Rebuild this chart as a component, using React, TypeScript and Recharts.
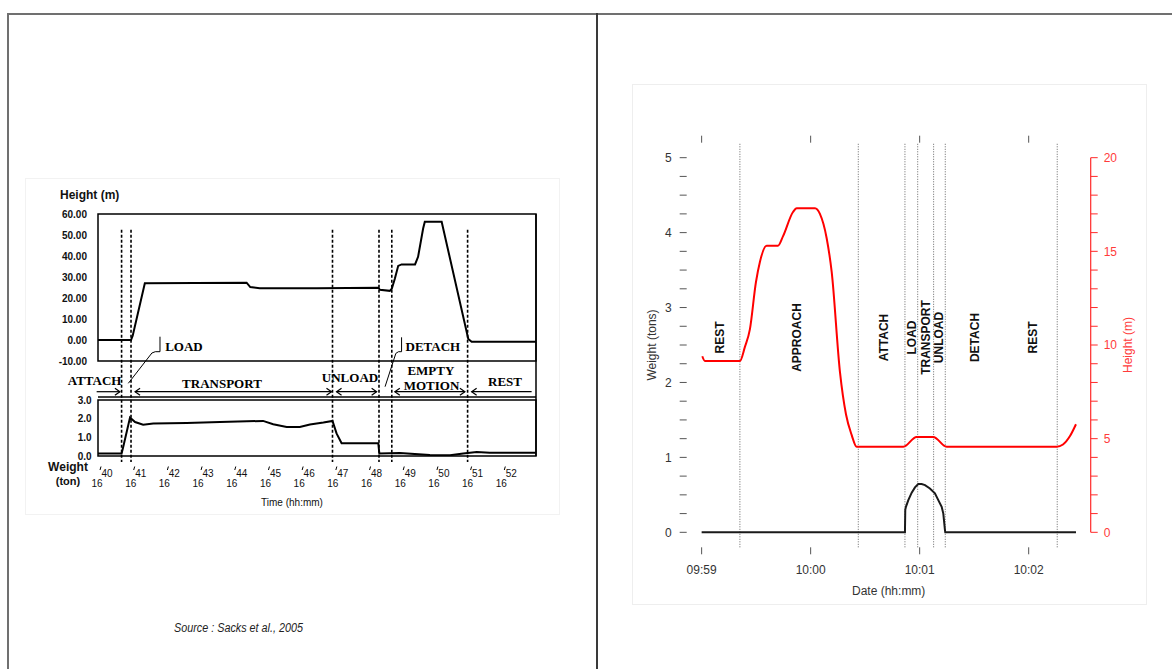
import React from 'react';
import {
  ComposedChart,
  Line,
  XAxis,
  YAxis,
  ReferenceLine,
  ReferenceArea,
  ReferenceDot,
} from 'recharts';

const SANS = '"Liberation Sans", Arial, sans-serif';
const SERIF = '"Liberation Serif", "Times New Roman", serif';

// ---------------- Left chart (Sacks et al., 2005) ----------------
const leftTimeTicks = [40, 41, 42, 43, 44, 45, 46, 47, 48, 49, 50, 51, 52];
const leftHourLabel = '16';
const leftHeightTicks = [-10, 0, 10, 20, 30, 40, 50, 60];
const leftWeightTicks = [0, 1, 2, 3];

const leftHeightT = [40, 40.98, 41.03, 41.39, 44.41, 44.52, 44.8, 46.5, 48.32, 48.37, 48.66, 48.72, 48.81, 48.91, 49.01, 49.41, 49.5, 49.65, 49.7, 50.2, 50.99, 51.09, 53];
const leftHeightV = [0, 0, 2, 27, 27.3, 25.2, 24.7, 24.6, 24.9, 23.9, 23.4, 24.4, 29.2, 35.3, 36, 36, 39.6, 53.1, 56.3, 56.3, 0.5, -0.8, -0.8];

const leftWeightT = [40, 40.7, 40.75, 40.95, 41.1, 41.34, 41.64, 42.63, 43.62, 44.9, 45.2, 45.6, 45.99, 46.29, 46.69, 46.96, 47.08, 47.23, 48.32, 48.35, 48.96, 49.85, 50.45, 50.84, 51.24, 51.63, 53];
const leftWeightV = [0.14, 0.14, 0.5, 2.06, 1.82, 1.68, 1.74, 1.77, 1.82, 1.88, 1.7, 1.56, 1.56, 1.69, 1.79, 1.88, 1.21, 0.68, 0.68, 0.14, 0.16, 0.05, 0.04, 0.14, 0.22, 0.18, 0.18];

const leftPhaseLines = [40.7, 40.98, 46.96, 48.34, 48.72, 50.97];

const leftBandNames = ['ATTACH', 'TRANSPORT', 'UNLOAD', 'EMPTY', 'MOTION', 'REST', 'LOAD', 'DETACH'];
const leftBandT = [39.9, 43.68, 47.48, 49.88, 49.9, 52.08, 42.55, 49.94];
const leftBandY = [31.2, 30.04, 32.64, 35.54, 29.34, 30.7, 45.45, 45.45];

const leftArrowFrom = [39.96, 41.1, 47.08, 48.81, 51.09];
const leftArrowTo = [40.65, 46.93, 48.27, 50.89, 52.87];
const leftArrowHeads = ['end', 'both', 'both', 'both', 'start'];
const leftArrowY = 26.57;

const loadLeaderT = [40.9, 41.6, 41.7, 41.84, 41.84];
const loadLeaderY = [30.04, 42.56, 43.1, 43.1, 49.3];
const detachLeaderT = [48.52, 48.84, 48.92, 49.01, 49.01];
const detachLeaderY = [28.64, 42.4, 43.1, 43.1, 49.05];

// ---------------- Right chart ----------------
const rightTimeTicks = [0, 1, 2, 3];
const rightTimeLabels = ['09:59', '10:00', '10:01', '10:02'];
const rightWeightTicks = [0, 0.25, 0.5, 0.75, 1, 1.25, 1.5, 1.75, 2, 2.25, 2.5, 2.75, 3, 3.25, 3.5, 3.75, 4, 4.25, 4.5, 4.75, 5];
const rightHeightTicks = [0, 1, 2, 3, 4, 5, 6, 7, 8, 9, 10, 11, 12, 13, 14, 15, 16, 17, 18, 19, 20];

const rightHeightM = [0.006, 0.03, 0.351, 0.397, 0.443, 0.498, 0.535, 0.596, 0.7, 0.746, 0.838, 0.872, 1.04, 1.085, 1.147, 1.193, 1.269, 1.324, 1.376, 1.422, 1.85, 1.972, 2.125, 2.248, 3.257, 3.315, 3.379, 3.434];
const rightHeightV = [9.4, 9.15, 9.15, 9.9, 10.85, 13.35, 14.45, 15.3, 15.3, 15.8, 17.1, 17.3, 17.3, 17.0, 15.7, 13.9, 8.55, 6.3, 5.2, 4.57, 4.57, 5.09, 5.09, 4.57, 4.57, 4.69, 5.14, 5.77];

const rightWeightM = [0, 1.865, 1.868, 1.874, 1.896, 1.927, 1.957, 1.987, 2.018, 2.049, 2.094, 2.14, 2.171, 2.202, 2.217, 2.232, 2.235, 3.434];
const rightWeightV = [0, 0, 0.3, 0.34, 0.43, 0.53, 0.6, 0.644, 0.644, 0.63, 0.585, 0.52, 0.43, 0.34, 0.25, 0.03, 0, 0];

const rightPhaseLines = [0.351, 1.437, 1.865, 1.982, 2.128, 2.235, 3.262];
const rightPhaseNames = ['REST', 'APPROACH', 'ATTACH', 'LOAD', 'TRANSPORT', 'UNLOAD', 'DETACH', 'REST'];
const rightPhaseCenters = [0.166, 0.871, 1.666, 1.926, 2.058, 2.176, 2.501, 3.036];
const rightPhaseY = 2.6;

const zip = (xs: number[], ys: number[], kx: string, ky: string) =>
  xs.map((x, i) => ({ [kx]: x, [ky]: ys[i] }));

const leftHeightData = zip(leftHeightT, leftHeightV, 't', 'h');
const leftWeightData = zip(leftWeightT, leftWeightV, 't', 'w');
const rightHeightData = zip(rightHeightM, rightHeightV, 'm', 'h');
const rightWeightData = zip(rightWeightM, rightWeightV, 'm', 'w');

// ---------------- tick renderers ----------------
const LeftTimeTick = (p: any) => {
  const { x, y, payload } = p;
  return (
    <g>
      <line x1={x + 3} y1={y + 10.5} x2={x + 2} y2={y + 14} stroke="#000" strokeWidth={1} />
      <text x={x + 9} y={y + 20.7} textAnchor="middle" fontSize={10} fontFamily={SANS} fill="#111">
        {payload.value}
      </text>
      <text x={x - 1} y={y + 30.7} textAnchor="middle" fontSize={10} fontFamily={SANS} fill="#111">
        {leftHourLabel}
      </text>
    </g>
  );
};

const RightWeightTick = (p: any) => {
  const v = p.payload.value;
  if (v % 1 !== 0) return <g />;
  return (
    <text x={p.x} y={p.y} dy="0.35em" textAnchor="end" fontSize={12} fontFamily={SANS} fill="#333">
      {v}
    </text>
  );
};

const RightHeightTick = (p: any) => {
  const v = p.payload.value;
  if (v % 5 !== 0) return <g />;
  return (
    <text x={p.x} y={p.y} dy="0.35em" textAnchor="start" fontSize={12} fontFamily={SANS} fill="#ff3b3b">
      {v}
    </text>
  );
};

const arrowShape = (head: string) => (p: any) => {
  const { x1, y1, x2, y2 } = p;
  const s = 5;
  const h = 3.5;
  const start = head === 'start' || head === 'both';
  const end = head === 'end' || head === 'both';
  return (
    <g>
      <line x1={x1} y1={y1} x2={x2} y2={y2} stroke="#000" strokeWidth={1.2} />
      {start && (
        <path d={`M${x1 + s},${y1 - h} L${x1},${y1} L${x1 + s},${y1 + h}`} fill="none" stroke="#000" strokeWidth={1.2} />
      )}
      {end && (
        <path d={`M${x2 - s},${y2 - h} L${x2},${y2} L${x2 - s},${y2 + h}`} fill="none" stroke="#000" strokeWidth={1.2} />
      )}
    </g>
  );
};

const leaderLines = (ts: number[], ys: number[], key: string) =>
  ts.slice(0, -1).map((t, i) => (
    <ReferenceLine
      key={`${key}-${i}`}
      xAxisId="x"
      yAxisId="a"
      segment={[
        { x: t, y: ys[i] },
        { x: ts[i + 1], y: ys[i + 1] },
      ]}
      stroke="#000"
      strokeWidth={1}
      ifOverflow="visible"
    />
  ));

const LeftChart = () => (
  <ComposedChart width={540} height={340} margin={{ top: 34, right: 24, bottom: 24, left: 78 }}>
    <XAxis
      xAxisId="x"
      dataKey="t"
      type="number"
      domain={[40, 53]}
      ticks={leftTimeTicks}
      interval={0}
      allowDataOverflow
      axisLine={false}
      tickLine={false}
      tickSize={0}
      tickMargin={0}
      height={40}
      tick={LeftTimeTick}
    />
    <YAxis yAxisId="h" hide type="number" domain={[-10, 60]} allowDataOverflow padding={{ top: 0, bottom: 95 }} />
    <YAxis yAxisId="w" hide type="number" domain={[0, 3]} allowDataOverflow padding={{ top: 186, bottom: 0 }} />
    <YAxis yAxisId="a" hide type="number" domain={[0, 100]} allowDataOverflow />

    <ReferenceArea xAxisId="x" yAxisId="h" x1={40} x2={53} y1={-10} y2={60} fill="none" stroke="#000" strokeWidth={1.5} ifOverflow="visible" />
    <ReferenceArea xAxisId="x" yAxisId="w" x1={40} x2={53} y1={0} y2={3} fill="none" stroke="#000" strokeWidth={1.5} ifOverflow="visible" />
    <ReferenceLine xAxisId="x" yAxisId="a" segment={[{ x: 40, y: 24.4 }, { x: 53, y: 24.4 }]} stroke="#000" strokeWidth={1.5} ifOverflow="visible" />
    <ReferenceLine xAxisId="x" yAxisId="a" segment={[{ x: 53, y: 0 }, { x: 53, y: 100 }]} stroke="#000" strokeWidth={1.5} ifOverflow="visible" />

    {leftPhaseLines.map((t, i) => (
      <ReferenceLine
        key={`lp-${i}`}
        xAxisId="x"
        yAxisId="a"
        segment={[{ x: t, y: 93.5 }, { x: t, y: -2.5 }]}
        stroke="#000"
        strokeWidth={1.6}
        strokeDasharray="3 2"
        ifOverflow="visible"
      />
    ))}

    {leftArrowFrom.map((t, i) => (
      <ReferenceLine
        key={`la-${i}`}
        xAxisId="x"
        yAxisId="a"
        segment={[{ x: t, y: leftArrowY }, { x: leftArrowTo[i], y: leftArrowY }]}
        ifOverflow="visible"
        shape={arrowShape(leftArrowHeads[i])}
      />
    ))}

    {leaderLines(loadLeaderT, loadLeaderY, 'load')}
    {leaderLines(detachLeaderT, detachLeaderY, 'detach')}

    {leftBandNames.map((n, i) => (
      <ReferenceDot
        key={`lb-${i}`}
        xAxisId="x"
        yAxisId="a"
        x={leftBandT[i]}
        y={leftBandY[i]}
        r={0}
        ifOverflow="visible"
        label={{ value: n, position: 'center', fill: '#000', fontSize: 13, fontWeight: 'bold', fontFamily: SERIF }}
      />
    ))}

    {leftHeightTicks.map((v) => (
      <ReferenceDot
        key={`lh-${v}`}
        xAxisId="x"
        yAxisId="h"
        x={40}
        y={v}
        r={0}
        ifOverflow="visible"
        label={{ value: v.toFixed(2), position: 'left', offset: 11, fill: '#111', fontSize: 10, fontWeight: 'bold', fontFamily: SANS }}
      />
    ))}

    {leftWeightTicks.map((v) => (
      <ReferenceDot
        key={`lw-${v}`}
        xAxisId="x"
        yAxisId="w"
        x={40}
        y={v}
        r={0}
        ifOverflow="visible"
        label={{ value: v.toFixed(1), position: 'left', offset: 6.3, fill: '#111', fontSize: 10, fontWeight: 'bold', fontFamily: SANS }}
      />
    ))}

    <Line
      xAxisId="x"
      yAxisId="h"
      data={leftHeightData}
      dataKey="h"
      type="linear"
      stroke="#000"
      strokeWidth={2}
      dot={false}
      isAnimationActive={false}
    />
    <Line
      xAxisId="x"
      yAxisId="w"
      data={leftWeightData}
      dataKey="w"
      type="linear"
      stroke="#000"
      strokeWidth={2}
      dot={false}
      isAnimationActive={false}
    />
  </ComposedChart>
);

const RightChart = () => (
  <ComposedChart width={515} height={521} margin={{ top: 50.7, right: 6.3, bottom: 7.7, left: 4.7 }}>
    <XAxis
      xAxisId="b"
      dataKey="m"
      type="number"
      domain={[-0.137, 3.569]}
      ticks={rightTimeTicks}
      interval={0}
      allowDataOverflow
      height={50}
      axisLine={false}
      tickSize={7}
      tickMargin={11}
      stroke="#555"
      tickFormatter={(v: number) => rightTimeLabels[rightTimeTicks.indexOf(v)]}
      tick={{ fill: '#333', fontSize: 12, fontFamily: SANS }}
    />
    <XAxis
      xAxisId="t"
      orientation="top"
      dataKey="m"
      type="number"
      domain={[-0.137, 3.569]}
      ticks={rightTimeTicks}
      interval={0}
      allowDataOverflow
      height={8}
      axisLine={false}
      tickSize={7}
      stroke="#555"
      tick={() => <g />}
    />
    <YAxis
      yAxisId="l"
      orientation="left"
      type="number"
      domain={[-0.2, 5.2]}
      ticks={rightWeightTicks}
      interval={0}
      allowDataOverflow
      width={50}
      axisLine={false}
      tickSize={7}
      tickMargin={8}
      stroke="#555"
      tick={RightWeightTick}
    />
    <YAxis
      yAxisId="r"
      orientation="right"
      type="number"
      domain={[-0.8, 20.8]}
      ticks={rightHeightTicks}
      interval={0}
      allowDataOverflow
      width={50}
      axisLine={false}
      tickSize={7}
      tickMargin={6}
      stroke="#ff2a2a"
      tick={RightHeightTick}
    />

    <ReferenceArea xAxisId="b" yAxisId="l" fill="none" stroke="#555" strokeWidth={1.2} ifOverflow="visible" />
    <ReferenceLine xAxisId="b" yAxisId="r" segment={[{ x: 3.569, y: 0 }, { x: 3.569, y: 20 }]} stroke="#ff2a2a" strokeWidth={1.2} ifOverflow="visible" />

    {rightPhaseLines.map((t, i) => (
      <ReferenceLine key={`rp-${i}`} xAxisId="b" yAxisId="l" x={t} stroke="#666" strokeWidth={1} strokeDasharray="1 1.5" ifOverflow="visible" />
    ))}

    {rightPhaseNames.map((n, i) => (
      <ReferenceDot
        key={`rl-${i}`}
        xAxisId="b"
        yAxisId="l"
        x={rightPhaseCenters[i]}
        y={rightPhaseY}
        r={0}
        ifOverflow="visible"
        label={{ value: n, position: 'center', angle: -90, fill: '#111', fontSize: 12, fontWeight: 'bold', fontFamily: SANS }}
      />
    ))}

    <Line
      xAxisId="b"
      yAxisId="r"
      data={rightHeightData}
      dataKey="h"
      type="monotone"
      stroke="#ff0000"
      strokeWidth={2}
      dot={false}
      isAnimationActive={false}
    />
    <Line
      xAxisId="b"
      yAxisId="l"
      data={rightWeightData}
      dataKey="w"
      type="linear"
      stroke="#1a1a1a"
      strokeWidth={2}
      dot={false}
      isAnimationActive={false}
    />
  </ComposedChart>
);

export default function App() {
  return (
    <div style={{ position: 'absolute', left: 0, top: 0, width: 1172, height: 669, background: '#fff', overflow: 'hidden', fontFamily: SANS }}>
      <div style={{ position: 'absolute', left: 7, top: 13, width: 1165, height: 2, background: '#707070' }} />
      <div style={{ position: 'absolute', left: 7, top: 13, width: 2, height: 656, background: '#707070' }} />
      <div style={{ position: 'absolute', left: 595.5, top: 13, width: 2, height: 656, background: '#3a3a3a' }} />

      <div style={{ position: 'absolute', left: 25, top: 178, width: 535, height: 337, border: '1px solid #f2f2f2', boxSizing: 'border-box' }} />
      <div style={{ position: 'absolute', left: 632, top: 84, width: 515, height: 521, border: '1px solid #eeeeee', boxSizing: 'border-box' }} />

      <div style={{ position: 'absolute', left: 20, top: 180 }}>
        <LeftChart />
      </div>
      <div style={{ position: 'absolute', left: 632, top: 84 }}>
        <RightChart />
      </div>

      <svg width={1172} height={669} style={{ position: 'absolute', left: 0, top: 0, pointerEvents: 'none' }}>
        <text x={60} y={198.5} fontSize={12} fontWeight="bold" fontFamily={SANS} fill="#111">Height (m)</text>
        <text x={68} y={471} textAnchor="middle" fontSize={12} fontWeight="bold" fontFamily={SANS} fill="#111">Weight</text>
        <text x={68} y={485} textAnchor="middle" fontSize={11} fontWeight="bold" fontFamily={SANS} fill="#111">(ton)</text>
        <text x={292} y={506} textAnchor="middle" fontSize={10} fontFamily={SANS} fill="#111">Time (hh:mm)</text>
        <text x={174} y={632} fontSize={12} fontStyle="italic" fontFamily={SANS} fill="#222" textLength={129} lengthAdjust="spacingAndGlyphs">
          Source : Sacks et al., 2005
        </text>

        <text x={651.5} y={345} transform="rotate(-90 651.5 345)" textAnchor="middle" dominantBaseline="central" fontSize={12} fontFamily={SANS} fill="#333">
          Weight (tons)
        </text>
        <text x={1128} y={345} transform="rotate(-90 1128 345)" textAnchor="middle" dominantBaseline="central" fontSize={12} fontFamily={SANS} fill="#ff3b3b">
          Height (m)
        </text>
        <text x={888.7} y={591} textAnchor="middle" dominantBaseline="central" fontSize={12} fontFamily={SANS} fill="#333">
          Date (hh:mm)
        </text>
      </svg>
    </div>
  );
}
